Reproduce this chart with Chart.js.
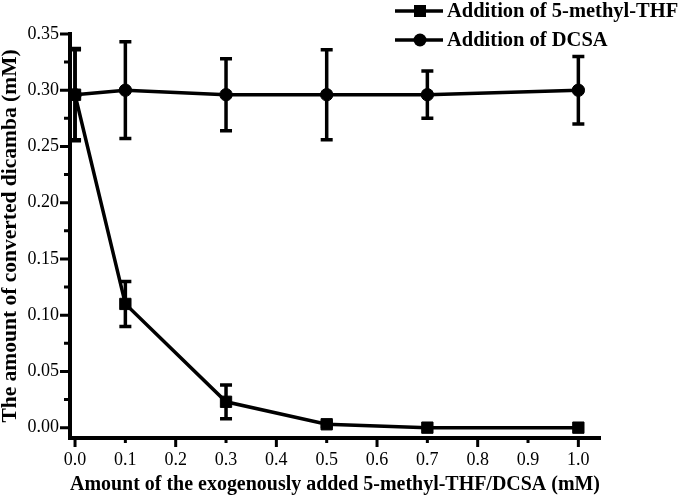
<!DOCTYPE html>
<html>
<head>
<meta charset="utf-8">
<script src="https://cdn.jsdelivr.net/npm/chart.js@4.4.1/dist/chart.umd.min.js"></script>
<style>
body{margin:0;background:#fff;}
canvas{display:block;}
</style>
</head>
<body>
<canvas id="grafico" width="680" height="499"></canvas>
<script>

const dosis = [0, 0.1, 0.3, 0.5, 0.7, 1.0];

const thfValores = [0.296, 0.110, 0.023, 0.003, 0.000, 0.000];
const thfErrores = [0.040, 0.020, 0.015, 0.002, 0, 0];

const dcsaValores = [0.296, 0.300, 0.296, 0.296, 0.296, 0.300];
const dcsaErrores = [0.041, 0.043, 0.032, 0.040, 0.021, 0.030];

const nombres = ["Addition of 5-methyl-THF", "Addition of DCSA"];

const xTicks = [0, 0.1, 0.2, 0.3, 0.4, 0.5, 0.6, 0.7, 0.8, 0.9, 1.0];
const xLabels = ["0.0","0.1","0.2","0.3","0.4","0.5","0.6","0.7","0.8","0.9","1.0"];
const xMayores = [0, 0.2, 0.4, 0.6, 0.8, 1.0];
const xMenores = [0.1, 0.3, 0.5, 0.7, 0.9];

const yTicks = [0, 0.05, 0.10, 0.15, 0.20, 0.25, 0.30, 0.35];
const yLabels = ["0.00","0.05","0.10","0.15","0.20","0.25","0.30","0.35"];
const yMenores = [0.025, 0.075, 0.125, 0.175, 0.225, 0.275, 0.325];

const fuente = "'Liberation Serif', 'Times New Roman', serif";

function puntos(valores){
return dosis.map((x,i)=>({x:x, y:valores[i]}));
}

// barras de error con las escalas del grafico
const barrasError = {
id:"barrasError",
beforeDatasetsDraw(chart){
const ctx = chart.ctx;
const xs = chart.scales.x;
const ys = chart.scales.y;
const errores = [thfErrores, dcsaErrores];
const valores = [thfValores, dcsaValores];
ctx.save();
ctx.strokeStyle = "#000";
ctx.lineWidth = 3.5;
for(let d=0; d<2; d++){
dosis.forEach((x,i)=>{
const e = errores[d][i];
if(!e) return;
const px = xs.getPixelForValue(x);
const arriba = ys.getPixelForValue(valores[d][i] + e);
const abajo = ys.getPixelForValue(valores[d][i] - e);
ctx.beginPath();
ctx.moveTo(px, arriba);
ctx.lineTo(px, abajo);
ctx.moveTo(px-6, arriba);
ctx.lineTo(px+6, arriba);
ctx.moveTo(px-6, abajo);
ctx.lineTo(px+6, abajo);
ctx.stroke();
});
}
ctx.restore();
}
};

// marcas de los ejes (mayores y menores)
const marcas = {
id:"marcas",
afterDraw(chart){
const ctx = chart.ctx;
const xs = chart.scales.x;
const ys = chart.scales.y;
const area = chart.chartArea;
ctx.save();
ctx.strokeStyle = "#000";
ctx.lineWidth = 3;
ctx.beginPath();
yTicks.forEach(v=>{
const py = ys.getPixelForValue(v);
ctx.moveTo(area.left-10, py);
ctx.lineTo(area.left, py);
});
yMenores.forEach(v=>{
const py = ys.getPixelForValue(v);
ctx.moveTo(area.left-6, py);
ctx.lineTo(area.left, py);
});
xMayores.forEach(v=>{
const px = xs.getPixelForValue(v);
ctx.moveTo(px, area.bottom);
ctx.lineTo(px, area.bottom+9);
});
xMenores.forEach(v=>{
const px = xs.getPixelForValue(v);
ctx.moveTo(px, area.bottom);
ctx.lineTo(px, area.bottom+5);
});
ctx.stroke();
ctx.restore();
}
};

// leyenda arriba a la derecha
const leyenda = {
id:"leyenda",
afterDraw(chart){
const ctx = chart.ctx;
ctx.save();
ctx.font = "bold 20.5px " + fuente;
ctx.textBaseline = "middle";
ctx.fillStyle = "#000";
ctx.strokeStyle = "#000";
ctx.lineWidth = 3.5;
const filas = [11, 40];
chart.data.datasets.forEach((ds,i)=>{
const y = filas[i];
ctx.beginPath();
ctx.moveTo(395, y);
ctx.lineTo(443, y);
ctx.stroke();
if(ds.pointStyle === "rect"){
ctx.fillRect(414, y-6, 12, 12);
}else{
ctx.beginPath();
ctx.arc(420, y, 6.5, 0, Math.PI*2);
ctx.fill();
}
ctx.fillText(ds.label, 447, y+1);
});
ctx.restore();
}
};

new Chart(
document.getElementById("grafico"),
{
type:"scatter",
data:{
datasets:[
{
label:nombres[0],
data:puntos(thfValores),
showLine:true,
borderColor:"#000",
backgroundColor:"#000",
borderWidth:3.5,
pointStyle:"rect",
pointRadius:8,
pointBorderWidth:1
},
{
label:nombres[1],
data:puntos(dcsaValores),
showLine:true,
borderColor:"#000",
backgroundColor:"#000",
borderWidth:3.5,
pointStyle:"circle",
pointRadius:6.2,
pointBorderWidth:1
}
]
},
options:{
responsive:false,
animation:false,
layout:{
padding:{top:34, right:80, left:0, bottom:0}
},
plugins:{
legend:{display:false},
tooltip:{enabled:false}
},
scales:{
x:{
type:"linear",
min:-0.01,
max:1.043,
afterBuildTicks:(s)=>{ s.ticks = xTicks.map(v=>({value:v})); },
afterFit:(s)=>{ s.height = 61; },
grid:{display:false, drawTicks:false},
border:{display:true, color:"#000", width:4},
ticks:{
color:"#000",
padding:11,
maxRotation:0,
autoSkip:false,
font:{family:fuente, size:18},
callback:(v,i)=>xLabels[i]
},
title:{
display:true,
text:"Amount of the exogenously added 5-methyl-THF/DCSA (mM)",
color:"#000",
font:{family:fuente, size:20, weight:"bold", lineHeight:1},
padding:{top:0, bottom:4}
}
},
y:{
type:"linear",
min:-0.0092,
max:0.35,
afterBuildTicks:(s)=>{ s.ticks = yTicks.map(v=>({value:v})); },
afterFit:(s)=>{ s.width = 70; },
grid:{display:false, drawTicks:false},
border:{display:true, color:"#000", width:4},
ticks:{
color:"#000",
padding:11,
autoSkip:false,
font:{family:fuente, size:18},
callback:(v,i)=>yLabels[i]
},
title:{
display:true,
text:"The amount of converted dicamba (mM)",
color:"#000",
font:{family:fuente, size:21.5, weight:"bold", lineHeight:1},
padding:{top:0, bottom:0}
}
}
}
},
plugins:[barrasError, marcas, leyenda]
});

</script>
</body>
</html>
